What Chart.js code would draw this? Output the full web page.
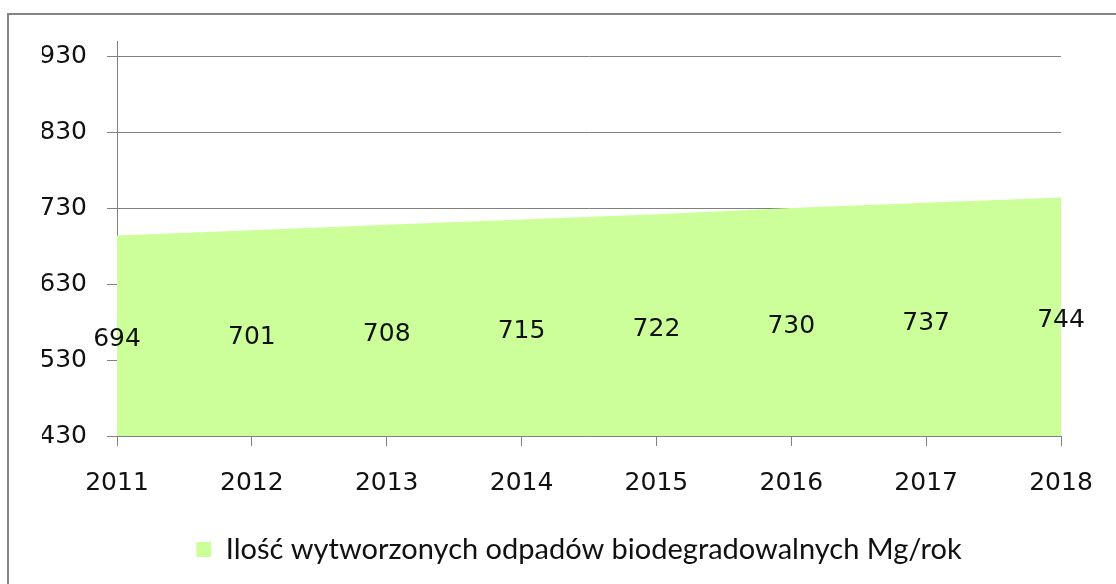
<!DOCTYPE html>
<html>
<head>
<meta charset="utf-8">
<script src="https://cdn.jsdelivr.net/npm/chart.js@4/dist/chart.umd.min.js"></script>
<style>
    html, body { margin: 0; padding: 0; background: #fff; overflow: hidden; }
    #wrap { position: relative; width: 1116px; height: 584px; }
    #frame { position: absolute; left: 7px; top: 13px; width: 1300px; height: 800px;
             border-left: 2px solid #858585; border-top: 2px solid #858585; }
    #chart { position: absolute; left: 0; top: 0; }
</style>
</head>
<body>
<div id="wrap">
    <div id="frame"></div>
    <canvas id="chart" width="1116" height="584"></canvas>
</div>
<script>
var years = ['2011', '2012', '2013', '2014', '2015', '2016', '2017', '2018'];
var biodegradable = [694, 701, 708, 715, 722, 730, 737, 744];
var yTicks = [430, 530, 630, 730, 830, 930];
var seriesName = 'Ilość wytworzonych odpadów biodegradowalnych Mg/rok';

// labels sit in the middle of the filled area, like the spreadsheet does it
var midLabels = {
    id: 'midLabels',
    afterDatasetsDraw: function(chart) {
        var ctx = chart.ctx;
        var yScale = chart.scales.y;
        var meta = chart.getDatasetMeta(0);
        ctx.save();
        ctx.font = '25px "DejaVu Sans"';
        ctx.fillStyle = '#111';
        ctx.textAlign = 'center';
        ctx.textBaseline = 'middle';
        meta.data.forEach(function(pt, i) {
            var v = chart.data.datasets[0].data[i];
            var y = yScale.getPixelForValue((v + yScale.min) / 2) + 4;
            ctx.fillText(String(v), pt.x, y);
        });
        ctx.restore();
    }
};

var ctx = document.getElementById('chart');
var myChart = new Chart(ctx, {
    type: 'line',
    data: {
        labels: years,
        datasets: [{
            label: seriesName,
            data: biodegradable,
            backgroundColor: '#ccff99',
            borderColor: '#ccff99',
            borderWidth: 0,
            pointRadius: 0,
            tension: 0,
            fill: 'start'
        }]
    },
    options: {
        responsive: false,
        animation: false,
        layout: { padding: { left: 42, top: 41, right: 0, bottom: 10 } },
        scales: {
            x: {
                offset: false,
                grid: { drawOnChartArea: false, color: '#808080', tickLength: 10 },
                border: { color: '#808080', width: 1 },
                ticks: { color: '#111', font: { family: 'DejaVu Sans', size: 25 }, padding: 22, maxRotation: 0 },
                afterFit: function(scale) {
                    scale.height = 89;
                    scale.paddingRight = 55;
                }
            },
            y: {
                min: 430,
                max: 950,
                grid: { color: '#808080', tickLength: 10 },
                border: { color: '#808080', width: 1 },
                ticks: { color: '#111', font: { family: 'DejaVu Sans', size: 25 }, padding: 20 },
                afterBuildTicks: function(scale) {
                    scale.ticks = yTicks.map(function(v) { return { value: v }; });
                },
                afterFit: function(scale) {
                    scale.width = 75;
                }
            }
        },
        plugins: {
            legend: {
                position: 'bottom',
                labels: {
                    color: '#111',
                    font: { family: 'Lato', size: 29 },
                    boxWidth: 15,
                    boxHeight: 15,
                    padding: 10
                }
            },
            tooltip: { enabled: false }
        }
    },
    plugins: [midLabels]
});
</script>
</body>
</html>
